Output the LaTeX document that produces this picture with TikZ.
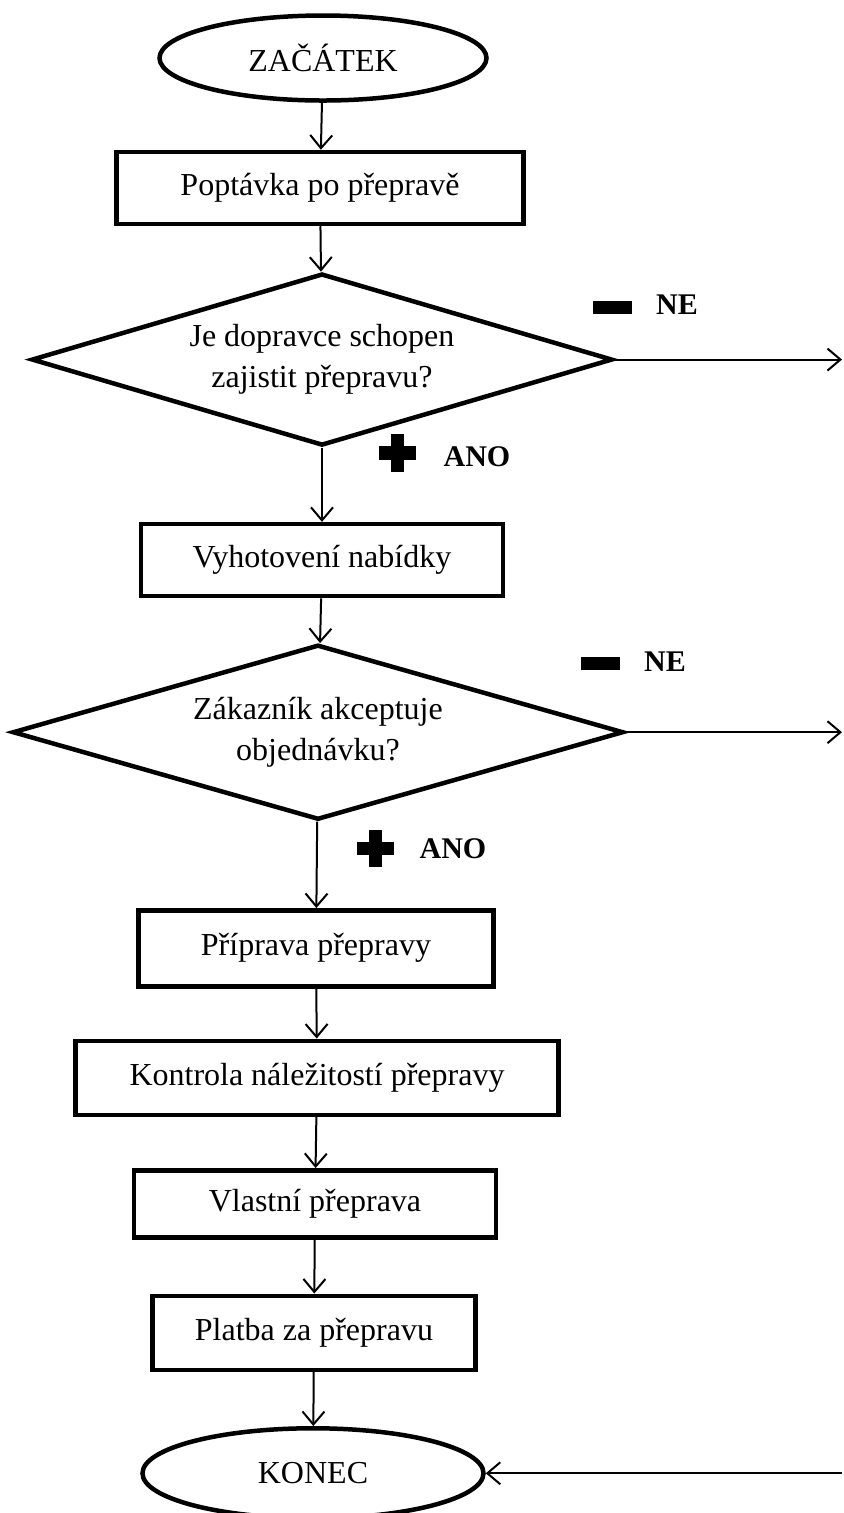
\documentclass[tikz,border=0pt]{standalone}
\usepackage{fontspec}
\setmainfont{Liberation Serif}
\usetikzlibrary{arrows.meta,shapes.geometric,positioning,matrix}

\begin{document}
\begin{tikzpicture}[x=0.5pt,y=-0.5pt,font=\fontsize{16}{20.5}\selectfont,
terminal/.style={ellipse,draw,line width=2.25pt,inner sep=0pt,minimum width=163.5pt,minimum height=42.5pt},
process/.style={rectangle,draw,line width=2.25pt,inner sep=0pt,minimum height=36pt},
decision/.style={diamond,draw,line width=2.25pt,inner sep=0pt,aspect=3.4,align=center},
edge/.style={line width=1pt,->,>={Straight Barb[length=6.5pt,width=11pt]}},
answer/.style={font=\bfseries\fontsize{15}{18}\selectfont,inner sep=0pt},
minus/.style={rectangle,fill,inner sep=0pt,minimum width=19.5pt,minimum height=6.5pt},
plussign/.pic={\fill (-18.5,-6.5) rectangle (18.5,6.5); \fill (-6.5,-18.5) rectangle (6.5,18.5);}]

\useasboundingbox (0,0) rectangle (843,1513);

\matrix[row sep=0pt,matrix anchor=start.center] at (323,58)
{
\node(start)[terminal,xshift=2.5pt]{ZAČÁTEK};\\[23.5pt]
\node(inquiry)[process,xshift=1pt,minimum width=203.5pt]{Poptávka po přepravě};\\[23pt]
\node(capable)[decision,xshift=2pt,minimum width=290.5pt,minimum height=86pt]{Je dopravce schopen\\zajistit přepravu?};\\[37.5pt]
\node(offer)[process,xshift=2pt,minimum width=181pt]{Vyhotovení nabídky};\\[22.5pt]
\node(accept)[decision,minimum width=305.5pt,minimum height=87.5pt]{Zákazník akceptuje\\objednávku?};\\[43.5pt]
\node(prep)[process,xshift=-1pt,minimum width=177.5pt,minimum height=38pt]{Příprava přepravy};\\[25pt]
\node(check)[process,xshift=-0.5pt,minimum width=241.5pt,minimum height=37pt]{Kontrola náležitostí přepravy};\\[25.5pt]
\node(transport)[process,xshift=-1.5pt,minimum width=181pt,minimum height=33.5pt]{Vlastní přeprava};\\[27pt]
\node(payment)[process,xshift=-2pt,minimum width=161.5pt,minimum height=37pt]{Platba za přepravu};\\[27pt]
\node(stop)[terminal,xshift=-2.5pt,minimum width=170.5pt,minimum height=45pt]{KONEC};\\
};

% answers
\node(no1sign)[minus] at (612,308){};
\node(no1)[answer] at (677,305){NE};
\pic (yes1sign) at (397,453){plussign};
\node(yes1)[answer] at (477,457){ANO};
\node(no2sign)[minus] at (600,663){};
\node(no2)[answer] at (665,662){NE};
\pic (yes2sign) at (375,848){plussign};
\node(yes2)[answer] at (453,849){ANO};

\coordinate (rim) at (842,0);
\coordinate (exit1) at (capable.east -| rim);
\coordinate (exit2) at (accept.east -| rim);
\coordinate (entry) at (stop.east -| rim);

\draw [edge] (start) -- (inquiry);
\draw [edge] (inquiry) -- (capable);
\draw [edge] (capable) -- (offer);
\draw [edge] (offer) -- (accept);
\draw [edge] (accept) -- (prep);
\draw [edge] (prep) -- (check);
\draw [edge] (check) -- (transport);
\draw [edge] (transport) -- (payment);
\draw [edge] (payment) -- (stop);
\draw [edge] (capable) -- (exit1);
\draw [edge] (accept) -- (exit2);
\draw [edge] (entry) -- (stop);
\end{tikzpicture}
\end{document}
